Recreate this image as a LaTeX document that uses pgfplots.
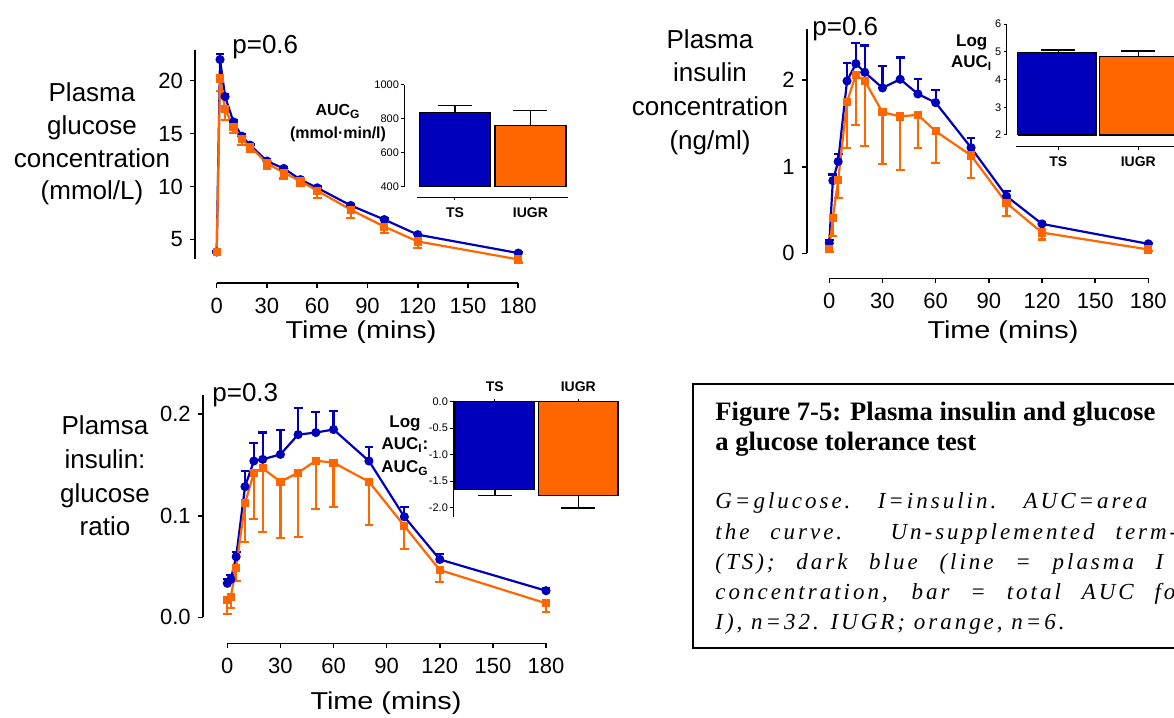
\documentclass[border=0pt]{standalone}
\usepackage{fontspec}
\setmainfont{Liberation Sans}
\newfontfamily\capfont{Liberation Serif}
\newfontfamily\timefont[FakeStretch=1.18]{Liberation Sans}
\usepackage{pgfplots}
\pgfplotsset{compat=1.18}
\definecolor{tsblue}{HTML}{0000BB}
\definecolor{iugr}{HTML}{FF6600}
\newcommand{\fs}[1]{\fontsize{#1}{#1}\selectfont}

\pgfplotsset{
  panel/.style={
    scale only axis, clip=false,
    axis x line*=bottom, axis y line*=left,
    axis line style={draw=none},
    tick align=outside, major tick length=2.5pt,
    major tick style={black, line width=0.8pt},
    xtick={0,30,...,180},
    ticklabel style={font=\fs{11}},
    xticklabel style={yshift=-1.5pt},
    /pgf/number format/assume math mode=true,
  },
  tsline/.style={tsblue, line width=1.1pt, mark=*, mark size=1.7pt,
    error bars/.cd, y dir=plus, y explicit,
    error bar style={tsblue, line width=1.1pt},
    error mark options={rotate=90, tsblue, mark size=2.2pt, line width=1.1pt}},
  iugrline/.style={iugr, line width=1.1pt, mark=square*, mark size=1.5pt,
    error bars/.cd, y dir=minus, y explicit,
    error bar style={iugr, line width=1.1pt},
    error mark options={rotate=90, iugr, mark size=2.2pt, line width=1.1pt}},
  inset/.style={
    scale only axis, clip=false,
    axis line style={draw=none},
    tick align=outside, major tick length=1.5pt,
    major tick style={black, line width=0.5pt},
    yticklabel style={font=\fs{5.5}, inner sep=1pt},
    xtick={0,1}, xticklabels={TS,IUGR},
    xticklabel style={font=\bfseries\fs{7}},
    /pgf/number format/assume math mode=true,
    /pgf/number format/1000 sep={},
  },
  barerr/.style={draw=none, mark=none,
    error bars/.cd, y dir=#1, y explicit,
    error bar style={draw=black, line width=0.8pt},
    error mark options={rotate=90, draw=black, mark size=8.5pt, line width=0.8pt}},
}

\begin{document}
\begin{tikzpicture}
\path[use as bounding box] (0,0) rectangle (587pt,-359pt);

% ---- plasma glucose
\begin{axis}[panel, at={(195*0.5pt,-283*0.5pt)}, anchor=south west,
  width=161.65pt, height=116.5pt,
  xmin=-12.95, xmax=180, ymin=0.87, ymax=22.9, ytick={5,10,15,20}]
\draw[line width=0.8pt] (axis cs:-12.95,3.14) -- (axis cs:-12.95,22.9);
\draw[line width=0.8pt] (axis cs:0,0.87) -- (axis cs:180,0.87);
\addplot[tsline] coordinates {
  (0,3.8) +- (0,0.1) (2,22.0) +- (0,0.5) (5,18.5) +- (0,0.25)
  (10,16.1) +- (0,0.2) (15,14.75) +- (0,0.2) (20,13.9) +- (0,0.15)
  (30,12.4) +- (0,0.15) (40,11.7) +- (0,0.15) (50,10.65) +- (0,0.15)
  (60,9.87) +- (0,0.15) (80,8.2) +- (0,0.15) (100,6.87) +- (0,0.15)
  (120,5.44) +- (0,0.1) (180,3.7) +- (0,0.1)};
\addplot[iugrline] coordinates {
  (0,3.8) +- (0,0.1) (2,20.2) +- (0,1.2) (5,17.3) +- (0,1.0)
  (10,15.65) +- (0,0.6) (15,14.5) +- (0,0.6) (20,13.75) +- (0,0.5)
  (30,12.2) +- (0,0.5) (40,11.3) +- (0,0.55) (50,10.5) +- (0,0.45)
  (60,9.6) +- (0,0.7) (80,7.8) +- (0,0.8) (100,6.2) +- (0,0.6)
  (120,4.8) +- (0,0.6) (180,3.1) +- (0,0.3)};
\end{axis}

% ---- AUC glucose inset
\begin{axis}[inset, at={(404.3*0.5pt,-197.3*0.5pt)}, anchor=south west,
  width=81.85pt, height=56.15pt,
  xmin=-0.671, xmax=1.497, ymin=337.5, ymax=1000,
  axis x line*=bottom, axis y line*=left, ytick={400,600,800,1000}]
\draw[line width=0.6pt] (axis cs:-0.671,400) -- (axis cs:-0.671,1000);
\draw[line width=0.6pt] (axis cs:-0.507,337.5) -- (axis cs:1.497,337.5);
\addplot[fill=tsblue, draw=black, line width=0.6pt] coordinates
  {(-0.473,400) (-0.473,840) (0.473,840) (0.473,400) (-0.473,400)};
\addplot[fill=iugr, draw=black, line width=0.6pt] coordinates
  {(0.53,400) (0.53,760) (1.47,760) (1.47,400) (0.53,400)};
\addplot[barerr=plus] coordinates {(0,840) +- (0,38) (1,760) +- (0,89)};
\end{axis}

% ---- plasma insulin
\begin{axis}[panel, at={(806.7*0.5pt,-278.3*0.5pt)}, anchor=south west,
  width=170.8pt, height=124.65pt,
  xmin=-12.75, xmax=180, ymin=-0.288, ymax=2.59, ytick={0,1,2}]
\draw[line width=0.8pt] (axis cs:-12.75,0) -- (axis cs:-12.75,2.59);
\draw[line width=0.8pt] (axis cs:0,-0.288) -- (axis cs:180,-0.288);
\addplot[tsline] coordinates {
  (0,0.12) +- (0,0.03) (2,0.84) +- (0,0.07) (5,1.06) +- (0,0.09)
  (10,1.99) +- (0,0.21) (15,2.19) +- (0,0.24) (20,2.09) +- (0,0.31)
  (30,1.91) +- (0,0.25) (40,2.01) +- (0,0.25) (50,1.84) +- (0,0.17)
  (60,1.74) +- (0,0.15) (80,1.22) +- (0,0.11) (100,0.66) +- (0,0.06)
  (120,0.34) +- (0,0.02) (180,0.11) +- (0,0.01)};
\addplot[iugrline] coordinates {
  (0,0.05) +- (0,0.03) (2,0.41) +- (0,0.21) (5,0.845) +- (0,0.21)
  (10,1.75) +- (0,0.53) (15,2.06) +- (0,0.58) (20,1.99) +- (0,0.75)
  (30,1.63) +- (0,0.60) (40,1.58) +- (0,0.62) (50,1.60) +- (0,0.38)
  (60,1.41) +- (0,0.37) (80,1.13) +- (0,0.26) (100,0.58) +- (0,0.15)
  (120,0.24) +- (0,0.08) (180,0.045) +- (0,0.02)};
\end{axis}

% ---- Log AUC insulin inset
\begin{axis}[inset, at={(1006.7*0.5pt,-146.7*0.5pt)}, anchor=south west,
  width=89.8pt, height=61.35pt,
  xmin=-0.645, xmax=1.6, ymin=1.578, ymax=6,
  axis x line*=bottom, axis y line*=left, ytick={2,3,4,5,6}]
\draw[line width=0.6pt] (axis cs:-0.645,2) -- (axis cs:-0.645,6);
\draw[line width=0.6pt] (axis cs:-0.529,1.578) -- (axis cs:1.6,1.578);
\addplot[fill=tsblue, draw=black, line width=0.6pt] coordinates
  {(-0.51,2) (-0.51,4.98) (0.47,4.98) (0.47,2) (-0.51,2)};
\addplot[fill=iugr, draw=black, line width=0.6pt] coordinates
  {(0.51,2) (0.51,4.84) (1.49,4.84) (1.49,2) (0.51,2)};
\addplot[barerr=plus] coordinates {(0,4.98) +- (0,0.08) (1,4.84) +- (0,0.19)};
\end{axis}

% ---- insulin:glucose ratio
\begin{axis}[panel, at={(202.7*0.5pt,-643.3*0.5pt)}, anchor=south west,
  width=171.65pt, height=124.15pt,
  xmin=-13.9, xmax=180, ymin=-0.0256, ymax=0.219,
  ytick={0,0.1,0.2}, yticklabels={0.0,0.1,0.2}]
\draw[line width=0.8pt] (axis cs:-13.9,0) -- (axis cs:-13.9,0.219);
\draw[line width=0.8pt] (axis cs:0,-0.0256) -- (axis cs:180,-0.0256);
\addplot[tsline] coordinates {
  (0,0.0335) +- (0,0.0045) (2,0.0374) +- (0,0.0043) (5,0.0597) +- (0,0.0043)
  (10,0.1287) +- (0,0.0153) (15,0.154) +- (0,0.018) (20,0.1556) +- (0,0.0264)
  (30,0.1605) +- (0,0.024) (40,0.180) +- (0,0.0265) (50,0.182) +- (0,0.020)
  (60,0.185) +- (0,0.018) (80,0.154) +- (0,0.0135) (100,0.099) +- (0,0.010)
  (120,0.057) +- (0,0.005) (180,0.0262) +- (0,0.0024)};
\addplot[iugrline] coordinates {
  (0,0.017) +- (0,0.0137) (2,0.0203) +- (0,0.0115) (5,0.0489) +- (0,0.0129)
  (10,0.1123) +- (0,0.0384) (15,0.1425) +- (0,0.0453) (20,0.1468) +- (0,0.0631)
  (30,0.1336) +- (0,0.0558) (40,0.1425) +- (0,0.0631) (50,0.1543) +- (0,0.0479)
  (60,0.1523) +- (0,0.0433) (80,0.1336) +- (0,0.0426) (100,0.090) +- (0,0.023)
  (120,0.0466) +- (0,0.0116) (180,0.0138) +- (0,0.0083)};
\end{axis}

% ---- Log AUC ratio inset
\begin{axis}[inset, at={(453.3*0.5pt,-401.7*0.5pt)}, anchor=north west,
  width=82.5pt, height=57.5pt,
  xmin=-0.495, xmax=1.478, ymin=-2.17, ymax=0,
  axis x line*=top, axis y line*=left,
  ytick={-2,-1.5,-1,-0.5,0}, yticklabels={-2.0,-1.5,-1.0,-0.5,0.0}]
\draw[line width=0.6pt] (axis cs:-0.495,0) -- (axis cs:-0.495,-2.17);
\draw[line width=0.6pt] (axis cs:-0.495,0) -- (axis cs:1.478,0);
\addplot[ybar, bar width=39.75pt, bar shift=0pt, fill=tsblue, draw=black, line width=0.6pt]
  coordinates {(0,-1.66)};
\addplot[ybar, bar width=39.75pt, bar shift=0pt, fill=iugr, draw=black, line width=0.6pt]
  coordinates {(1,-1.77)};
\addplot[barerr=minus] coordinates {(0,-1.66) +- (0,0.11) (1,-1.77) +- (0,0.23)};
\end{axis}

\begin{scope}[x=0.5pt,y=-0.5pt]
% panel labels
\node[align=center, font=\fontsize{13}{16.4}\selectfont] at (92,144)
  {Plasma\\glucose\\concentration\\(mmol/L)};
\node[anchor=base west, inner sep=0, font=\fs{13}] at (232,53) {p=0.6};
\node[anchor=base, inner sep=0, font=\timefont\fs{12.2}] at (361,338) {Time (mins)};

\node[align=center, font=\fontsize{13}{16.8}\selectfont] at (710,92)
  {Plasma\\insulin\\concentration\\(ng/ml)};
\node[anchor=base west, inner sep=0, font=\fs{13}] at (812,35) {p=0.6};
\node[anchor=base, inner sep=0, font=\timefont\fs{12.2}] at (1003,338) {Time (mins)};

\node[align=center, font=\fontsize{13}{16.8}\selectfont] at (105,476)
  {Plamsa\\insulin:\\glucose\\ratio};
\node[anchor=base west, inner sep=0, font=\fs{13}] at (212,401) {p=0.3};
\node[anchor=base, inner sep=0, font=\timefont\fs{12.2}] at (386,709) {Time (mins)};

% inset labels
\node[align=center, font=\bfseries\fontsize{8}{11.5}\selectfont] at (338,123.5)
  {AUC\textsubscript{G}\\(mmol·min/l)};
\node[align=center, font=\bfseries\fontsize{8.5}{10.8}\selectfont] at (971.7,52.5)
  {Log\\AUC\textsubscript{I}};
\node[align=center, font=\bfseries\fontsize{8.5}{11.2}\selectfont] at (405,445.5)
  {Log\\AUC\textsubscript{I}:\\AUC\textsubscript{G}};

% caption box
\draw[line width=1pt] (692.5,384) rectangle (1190,648);
\node[anchor=base west, inner sep=0, font=\capfont\bfseries\fs{13.3}] at (715,420)
  {Figure 7-5: Plasma insulin and glucose};
\node[anchor=base west, inner sep=0, font=\capfont\bfseries\fs{13.3}] at (715,450)
  {a glucose tolerance test};
\begin{scope}[every node/.style={anchor=base west, inner sep=0,
    font=\capfont\itshape\fs{11.5}\addfontfeature{LetterSpace=13}}]
\node at (715,508) {\makebox[216pt][s]{G=glucose. I=insulin. AUC=area}};
\node at (715,539) {\makebox[231pt][s]{the curve. Un-supplemented term-}};
\node at (715,569) {\makebox[224pt][s]{(TS); dark blue (line = plasma I}};
\node at (715,599) {\makebox[236pt][s]{concentration, bar = total AUC for}};
\node at (715,629) {I), n=32. IUGR; orange, n=6.};
\end{scope}
\end{scope}
\end{tikzpicture}
\end{document}
